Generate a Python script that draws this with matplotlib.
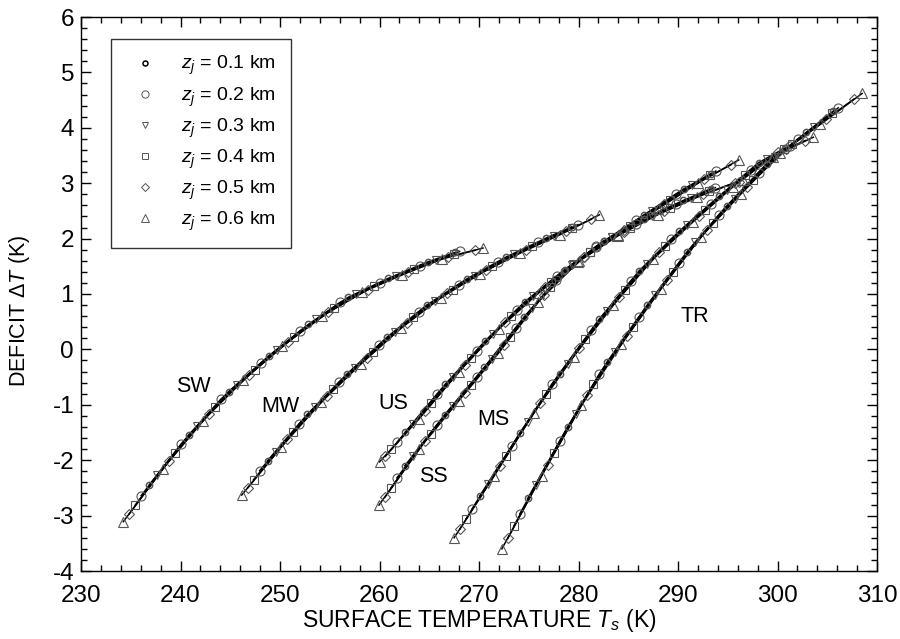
import matplotlib
matplotlib.use('Agg')
import matplotlib.pyplot as plt
from matplotlib.lines import Line2D
from matplotlib.ticker import MultipleLocator

plt.rcParams['font.family'] = ['Liberation Sans', 'DejaVu Sans']
plt.rcParams['mathtext.fontset'] = 'custom'
plt.rcParams['mathtext.rm'] = 'Liberation Sans'
plt.rcParams['mathtext.it'] = 'Liberation Sans:italic'
plt.rcParams['axes.unicode_minus'] = False

# jet heights (km) and their marker styles
z_levels = [0.1, 0.2, 0.3, 0.4, 0.5, 0.6]
markers = ['o', 'o', 'v', 's', 'D', '^']
msizes = [4.5, 6.5, 5.5, 6.0, 5.6, 7.0]

# surface temperature Ts (K) and deficit dT (K), one list per jet height
SW_T = [[236.85, 240.85, 244.85, 248.85, 252.85, 256.85, 260.85, 264.85, 267.6],
        [236.05, 240.05, 244.05, 248.05, 252.05, 256.05, 260.05, 264.05, 268.05],
        [237.65, 241.65, 245.65, 249.65, 253.65, 257.65, 261.65, 265.65],
        [235.45, 239.45, 243.45, 247.45, 251.45, 255.45, 259.45, 263.45, 267.45],
        [234.85, 238.85, 242.85, 246.85, 250.85, 254.85, 258.85, 262.85, 266.85, 269.6],
        [234.25, 238.25, 242.25, 246.25, 250.25, 254.25, 258.25, 262.25, 266.25, 270.4]]
SW_DT = [[-2.45, -1.54, -0.76, -0.12, 0.45, 0.94, 1.28, 1.58, 1.75],
         [-2.64, -1.71, -0.90, -0.25, 0.34, 0.85, 1.20, 1.51, 1.77],
         [-2.27, -1.39, -0.64, -0.01, 0.54, 1.00, 1.32, 1.62],
         [-2.81, -1.87, -1.04, -0.37, 0.23, 0.75, 1.14, 1.45, 1.72],
         [-2.97, -2.01, -1.17, -0.47, 0.14, 0.67, 1.08, 1.39, 1.67, 1.79],
         [-3.11, -2.15, -1.29, -0.56, 0.06, 0.60, 1.03, 1.35, 1.63, 1.83]]

MW_T = [[248.75, 252.75, 256.75, 260.75, 264.75, 268.75, 272.75, 276.75, 279.3],
        [247.95, 251.95, 255.95, 259.95, 263.95, 267.95, 271.95, 275.95, 279.95],
        [249.55, 253.55, 257.55, 261.55, 265.55, 269.55, 273.55, 277.55],
        [247.35, 251.35, 255.35, 259.35, 263.35, 267.35, 271.35, 275.35, 279.35],
        [246.75, 250.75, 254.75, 258.75, 262.75, 266.75, 270.75, 274.75, 278.75, 281.3],
        [246.15, 250.15, 254.15, 258.15, 262.15, 266.15, 270.15, 274.15, 278.15, 282.1]]
MW_DT = [[-2.01, -1.17, -0.44, 0.22, 0.80, 1.27, 1.67, 2.01, 2.21],
         [-2.19, -1.34, -0.59, 0.08, 0.68, 1.17, 1.58, 1.93, 2.25],
         [-1.86, -1.04, -0.33, 0.32, 0.88, 1.33, 1.72, 2.05],
         [-2.35, -1.49, -0.72, -0.04, 0.58, 1.08, 1.50, 1.86, 2.19],
         [-2.50, -1.62, -0.84, -0.15, 0.48, 1.01, 1.43, 1.80, 2.13, 2.35],
         [-2.63, -1.76, -0.95, -0.26, 0.38, 0.93, 1.37, 1.74, 2.07, 2.43]]

US_T = [[262.6, 266.6, 270.6, 274.6, 278.6, 282.6, 286.6, 290.6, 293.3],
        [261.8, 265.8, 269.8, 273.8, 277.8, 281.8, 285.8, 289.8, 293.8],
        [263.4, 267.4, 271.4, 275.4, 279.4, 283.4, 287.4, 291.4],
        [261.2, 265.2, 269.2, 273.2, 277.2, 281.2, 285.2, 289.2, 293.2],
        [260.6, 264.6, 268.6, 272.6, 276.6, 280.6, 284.6, 288.6, 292.6, 295.3],
        [260.0, 264.0, 268.0, 272.0, 276.0, 280.0, 284.0, 288.0, 292.0, 296.1]]
US_DT = [[-1.49, -0.63, 0.15, 0.86, 1.44, 1.96, 2.43, 2.90, 3.17],
         [-1.67, -0.81, -0.02, 0.72, 1.32, 1.85, 2.33, 2.80, 3.22],
         [-1.35, -0.49, 0.28, 0.96, 1.54, 2.03, 2.50, 2.96],
         [-1.80, -0.96, -0.15, 0.60, 1.21, 1.76, 2.23, 2.70, 3.14],
         [-1.93, -1.11, -0.28, 0.49, 1.12, 1.67, 2.15, 2.62, 3.07, 3.33],
         [-2.03, -1.25, -0.40, 0.37, 1.02, 1.59, 2.07, 2.54, 3.00, 3.42]]

SS_T = [[262.55, 266.55, 270.55, 274.55, 278.55, 282.55, 286.55, 290.55, 293.3],
        [261.75, 265.75, 269.75, 273.75, 277.75, 281.75, 285.75, 289.75, 293.75],
        [263.35, 267.35, 271.35, 275.35, 279.35, 283.35, 287.35, 291.35],
        [261.15, 265.15, 269.15, 273.15, 277.15, 281.15, 285.15, 289.15, 293.15],
        [260.55, 264.55, 268.55, 272.55, 276.55, 280.55, 284.55, 288.55, 292.55, 295.7],
        [259.95, 263.95, 267.95, 271.95, 275.95, 279.95, 283.95, 287.95, 291.95, 296.5]]
SS_DT = [[-2.10, -1.18, -0.32, 0.59, 1.41, 1.96, 2.36, 2.69, 2.90],
         [-2.32, -1.37, -0.50, 0.39, 1.26, 1.86, 2.27, 2.62, 2.92],
         [-1.92, -1.03, -0.17, 0.75, 1.52, 2.02, 2.41, 2.73],
         [-2.50, -1.52, -0.65, 0.23, 1.12, 1.76, 2.20, 2.55, 2.86],
         [-2.67, -1.66, -0.79, 0.08, 0.99, 1.67, 2.12, 2.49, 2.80, 3.01],
         [-2.81, -1.80, -0.93, -0.07, 0.86, 1.58, 2.05, 2.43, 2.75, 3.06]]

MS_T = [[270.1, 274.1, 278.1, 282.1, 286.1, 290.1, 294.1, 298.1, 300.8],
        [269.3, 273.3, 277.3, 281.3, 285.3, 289.3, 293.3, 297.3, 301.3],
        [270.9, 274.9, 278.9, 282.9, 286.9, 290.9, 294.9, 298.9],
        [268.7, 272.7, 276.7, 280.7, 284.7, 288.7, 292.7, 296.7, 300.7],
        [268.1, 272.1, 276.1, 280.1, 284.1, 288.1, 292.1, 296.1, 300.1, 302.8],
        [267.5, 271.5, 275.5, 279.5, 283.5, 287.5, 291.5, 295.5, 299.5, 303.6]]
MS_DT = [[-2.64, -1.51, -0.44, 0.55, 1.42, 2.13, 2.76, 3.37, 3.64],
         [-2.88, -1.75, -0.63, 0.35, 1.24, 1.99, 2.63, 3.24, 3.67],
         [-2.43, -1.31, -0.26, 0.70, 1.55, 2.24, 2.87, 3.44],
         [-3.06, -1.93, -0.81, 0.18, 1.08, 1.86, 2.51, 3.14, 3.62],
         [-3.24, -2.11, -0.97, 0.02, 0.94, 1.75, 2.41, 3.03, 3.56, 3.77],
         [-3.40, -2.29, -1.15, -0.13, 0.80, 1.63, 2.30, 2.93, 3.48, 3.83]]

TR_T = [[274.9, 278.9, 282.9, 286.9, 290.9, 294.9, 298.9, 302.9, 305.6],
        [274.1, 278.1, 282.1, 286.1, 290.1, 294.1, 298.1, 302.1, 306.1],
        [275.7, 279.7, 283.7, 287.7, 291.7, 295.7, 299.7, 303.7],
        [273.5, 277.5, 281.5, 285.5, 289.5, 293.5, 297.5, 301.5, 305.5],
        [272.9, 276.9, 280.9, 284.9, 288.9, 292.9, 296.9, 300.9, 304.9, 307.7],
        [272.3, 276.3, 280.3, 284.3, 288.3, 292.3, 296.3, 300.3, 304.3, 308.5]]
TR_DT = [[-2.69, -1.40, -0.22, 0.80, 1.76, 2.59, 3.35, 3.92, 4.30],
         [-2.97, -1.66, -0.44, 0.59, 1.56, 2.43, 3.19, 3.80, 4.36],
         [-2.45, -1.16, -0.04, 0.98, 1.93, 2.71, 3.47, 4.01],
         [-3.19, -1.87, -0.63, 0.41, 1.40, 2.29, 3.05, 3.71, 4.26],
         [-3.41, -2.08, -0.82, 0.25, 1.25, 2.16, 2.93, 3.62, 4.16, 4.52],
         [-3.60, -2.28, -1.01, 0.09, 1.09, 2.03, 2.80, 3.54, 4.06, 4.62]]

profiles = [(SW_T, SW_DT), (MW_T, MW_DT), (US_T, US_DT),
            (SS_T, SS_DT), (MS_T, MS_DT), (TR_T, TR_DT)]

# curve names and where they are written
names = ['SW', 'MW', 'US', 'SS', 'MS', 'TR']
name_x = [241.3, 250.0, 261.4, 265.4, 271.4, 291.7]
name_y = [-0.67, -1.03, -0.97, -2.29, -1.27, 0.59]

fig = plt.figure(figsize=(9, 6.39), dpi=100)
ax = fig.add_axes([81 / 900, 68 / 639, 796 / 900, 554 / 639])

mec = '#555555'
for ts, dts in profiles:
    for i in range(6):
        ax.plot(ts[i], dts[i], color='black', lw=1.1, zorder=2)
        ax.plot(ts[i], dts[i], ls='none', marker=markers[i], ms=msizes[i],
                mfc='none', mec=mec, mew=0.8 if i else 1.1, zorder=3)

for n, x, y in zip(names, name_x, name_y):
    ax.text(x, y, n, fontsize=15.5, ha='center', va='center')

ax.set_xlim(230, 310)
ax.set_ylim(-4, 6)
ax.xaxis.set_major_locator(MultipleLocator(10))
ax.xaxis.set_minor_locator(MultipleLocator(2))
ax.yaxis.set_major_locator(MultipleLocator(1))
ax.yaxis.set_minor_locator(MultipleLocator(0.2))
ax.tick_params(which='both', direction='in', top=True, right=True,
               labelsize=17.5, width=1.0)
ax.tick_params(which='major', length=7)
ax.tick_params(which='minor', length=4.5)
ax.tick_params(axis='x', which='major', pad=10)
ax.tick_params(axis='y', which='major', pad=5)
for sp in ax.spines.values():
    sp.set_linewidth(1.0)

ax.set_xlabel(r'SURFACE TEMPERATURE $T_s$ (K)', fontsize=16.5, labelpad=0)
ax.set_ylabel(r'DEFICIT $\mathit{\Delta T}$ (K)', fontsize=15.5)
ax.yaxis.set_label_coords(-0.062, 0.47)

handles = [Line2D([], [], ls='none', marker=markers[i], ms=msizes[i] * 0.8,
                  mfc='none', mec='#555555' if i else 'black',
                  mew=0.7 if i else 1.1) for i in range(6)]
labels = [r'$z_j$ = %.1f km' % z for z in z_levels]
leg = ax.legend(handles, labels, loc='upper left', bbox_to_anchor=(0.0377, 0.960),
                borderaxespad=0, fontsize=14, frameon=True, fancybox=False,
                edgecolor='black', labelspacing=0.41, handletextpad=0.88,
                borderpad=0.77, handlelength=1.96)
leg.get_frame().set_linewidth(1.0)

fig.savefig('out.png', dpi=100)
